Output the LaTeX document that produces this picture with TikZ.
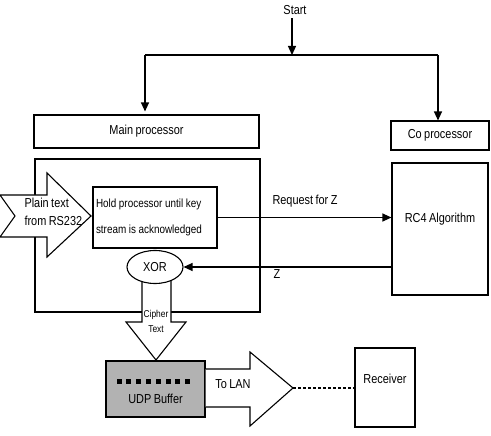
\documentclass[tikz,border=0pt]{standalone}
\usepackage{fontspec}
\setmainfont{Liberation Sans}[FakeStretch=0.84, WordSpace=0.8]
\usetikzlibrary{arrows.meta,shapes.geometric}

\tikzset{
  box/.style={draw, line width=1.1pt, inner sep=0pt},
  flow/.style={-{Triangle[length=9pt,width=8pt]}, line width=1.2pt},
  fat/.style={draw, fill=white, line width=1.1pt, line join=miter},
}

\begin{document}
\begin{tikzpicture}[x=1pt, y=-1pt, font=\fontsize{13}{15}\selectfont]
\useasboundingbox (0,0) rectangle (491,436);

% start and the two processors
\node (start) at (295,10) {Start};
\coordinate (split) at (292,55);
\coordinate (lft) at (145,55);
\coordinate (rgt) at (438,55);
\node[box, minimum width=225pt, minimum height=33pt] (main) at (146.5,131.5) {Main processor};
\node[box, minimum width=98pt, minimum height=29pt] (co) at (440,135.5) {Co processor};

\draw[flow] (start.south -| split) -- (split);
\draw[line width=1.2pt] (lft) -- (rgt);
\draw[flow] (lft) -- ([yshift=3pt]lft |- main.north);
\draw[flow] (rgt) -- (rgt |- co.north);

% main processor body
\node[box, minimum width=225pt, minimum height=153pt] (body) at (147.5,235.5) {};
\node[box, minimum width=124pt, minimum height=61pt, text width=118pt, align=left,
      font=\fontsize{11.8}{26}\selectfont] (hold) at (155,217.5)
      {\spaceskip=2.6pt plus 1pt Hold processor until key\\stream is acknowledged};

% co processor body
\node[box, minimum width=96pt, minimum height=132pt] (rc4) at (440,229) {};
\node at ([yshift=10pt]rc4.center) {RC4 Algorithm};

% plain text in
\draw[fat] (0,195) -- ++(47,0) -- ++(0,-22) -- (91,216) -- (47,257)
  -- ++(0,-20) -- ++(-47,0) -- ++(15,-21) -- cycle;
\node[align=left, font=\fontsize{13}{18}\selectfont, anchor=west] (plain) at (21,212)
  {Plain text\\from RS232};

% cipher text down
\draw[fat] (142,278) -- ++(0,44) -- ++(-16,0) -- (156,360) -- (186,322)
  -- ++(-15,0) -- ++(0,-44);
\node[align=center, font=\fontsize{10}{15}\selectfont] (cipher) at (156,321.5)
  {Cipher\\Text};
\node[draw, fill=white, line width=1.1pt, ellipse, minimum width=56pt,
      minimum height=33pt, inner sep=0pt] (xor) at (155,267) {XOR};

% request and key stream
\draw[flow] (hold.east) -- (hold.east -| rc4.west);
\node (req) at (305,201) {Request for Z};
\draw[flow] (xor.east -| rc4.west) -- (xor.east);
\node (zval) at (277,274) {Z};

% buffer and receiver
\node[box, fill=black!30, minimum width=99pt, minimum height=56pt] (udp) at (155.5,389) {};
\foreach \i in {0,...,7}
  \fill (116.5+9.8*\i,378.5) rectangle ++(5,5);
\node at ([yshift=-10pt]udp.center) {UDP Buffer};

\draw[fat] (udp.east |- 0,369) -- (250,369) -- (250,352) -- (293,388)
  -- (250,426) -- (250,407) -- (udp.east |- 0,407);
\coordinate (lan) at (293,388);
\node (tolan) at (233,384) {To LAN};

\node[box, minimum width=60pt, minimum height=79pt] (recv) at (385,387.5) {};
\node at ([yshift=8.5pt]recv.center) {Receiver};
\draw[line width=1.4pt, dash pattern=on 3pt off 2pt] (lan) -- (lan -| recv.west);
\end{tikzpicture}
\end{document}
